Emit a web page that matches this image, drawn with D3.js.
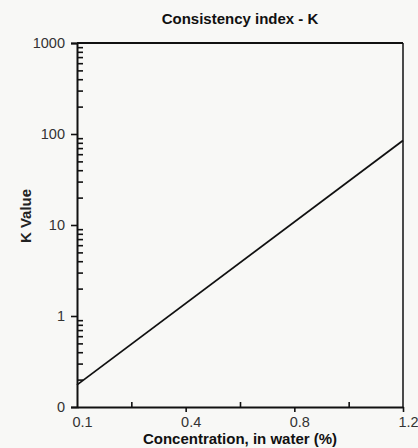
<!DOCTYPE html>
<html>
<head>
<meta charset="utf-8">
<script src="https://cdn.jsdelivr.net/npm/d3@7"></script>
<style>
  html, body { margin: 0; padding: 0; background: #f8f8f6; }
  svg { display: block; }
  text { font-family: "Liberation Sans", Arial, sans-serif; }
</style>
</head>
<body>
<script>
// ---- data ----
const xTickValues = [0, 0.2, 0.4, 0.6, 0.8, 1.0, 1.2];
const xTickLabels = ["0.1", "", "0.4", "", "0.8", "", "1.2"];
const yTickValues = [0.1, 1, 10, 100, 1000];
const yTickLabels = ["0", "1", "10", "100", "1000"];
const concentration = [0, 1.2];
const kValue = [0.175, 85];

const W = 418, H = 448;
const svg = d3.select("body").append("svg").attr("width", W).attr("height", H);

const x = d3.scaleLinear().domain([0, 1.2]).range([77, 403]);
const y = d3.scaleLog().domain([0.1, 1000]).range([407, 43]);

// minor y ticks (inside)
const yMinor = [];
for (let d = 0.1; d < 1000; d *= 10) {
  for (let k = 2; k <= 9; k++) yMinor.push(+(d * k).toPrecision(3));
}

const black = "#111";

// frame (top and right)
svg.append("line").attr("x1", x(0)).attr("x2", x(1.2)).attr("y1", y(1000)).attr("y2", y(1000))
  .attr("stroke", black).attr("stroke-width", 2);
svg.append("line").attr("x1", x(1.2)).attr("x2", x(1.2)).attr("y1", y(1000)).attr("y2", y(0.1))
  .attr("stroke", black).attr("stroke-width", 1.5);

// y axis major
const yAxis = svg.append("g").attr("transform", `translate(${x(0)},0)`)
  .call(d3.axisLeft(y).tickValues(yTickValues).tickSize(6).tickPadding(6)
    .tickFormat((d, i) => yTickLabels[i]));
// y axis minor
const yAxisMinor = svg.append("g").attr("transform", `translate(${x(0)},0)`)
  .call(d3.axisLeft(y).tickValues(yMinor).tickSizeInner(-6).tickSizeOuter(0).tickFormat(""));
yAxisMinor.select(".domain").remove();

// x axis: labeled ticks outward, unlabeled inward
const xMajorVals = xTickValues.filter((d, i) => xTickLabels[i] !== "" && i > 0);
const xMinorVals = xTickValues.filter((d, i) => xTickLabels[i] === "");
const xAxis = svg.append("g").attr("transform", `translate(0,${y(0.1)})`)
  .call(d3.axisBottom(x).tickValues(xTickValues).tickSize(0).tickPadding(10)
    .tickFormat((d, i) => xTickLabels[i]));
xAxis.selectAll(".tick text").attr("dx", 5);
const xMaj = svg.append("g").attr("transform", `translate(0,${y(0.1)})`)
  .call(d3.axisBottom(x).tickValues(xMajorVals).tickSizeInner(5).tickSizeOuter(0).tickFormat(""));
xMaj.select(".domain").remove();
const xMin = svg.append("g").attr("transform", `translate(0,${y(0.1)})`)
  .call(d3.axisBottom(x).tickValues(xMinorVals).tickSizeInner(-5).tickSizeOuter(0).tickFormat(""));
xMin.select(".domain").remove();

svg.selectAll(".domain").attr("stroke", black).attr("stroke-width", 2);
svg.selectAll(".tick line").attr("stroke", black).attr("stroke-width", 1.6);
svg.selectAll(".tick text").attr("fill", "#333").style("font-size", "14.5px")
  .style("font-family", "'Liberation Sans', Arial, sans-serif");

// data line
const line = d3.line().x(d => x(d[0])).y(d => y(d[1]));
svg.append("path").datum(concentration.map((c, i) => [c, kValue[i]]))
  .attr("d", line).attr("fill", "none").attr("stroke", black).attr("stroke-width", 1.8);

// title
svg.append("text").attr("x", 240).attr("y", 24).attr("text-anchor", "middle")
  .style("font-size", "15px").style("font-weight", "bold").attr("fill", "#111")
  .text("Consistency index - K");

// x title
svg.append("text").attr("x", 240).attr("y", 444).attr("text-anchor", "middle")
  .style("font-size", "15px").style("font-weight", "bold").attr("fill", "#111")
  .text("Concentration, in water (%)");

// y title
svg.append("text").attr("transform", "translate(31,216) rotate(-90)").attr("text-anchor", "middle")
  .style("font-size", "15px").style("font-weight", "bold").attr("fill", "#222")
  .text("K Value");
</script>
</body>
</html>
